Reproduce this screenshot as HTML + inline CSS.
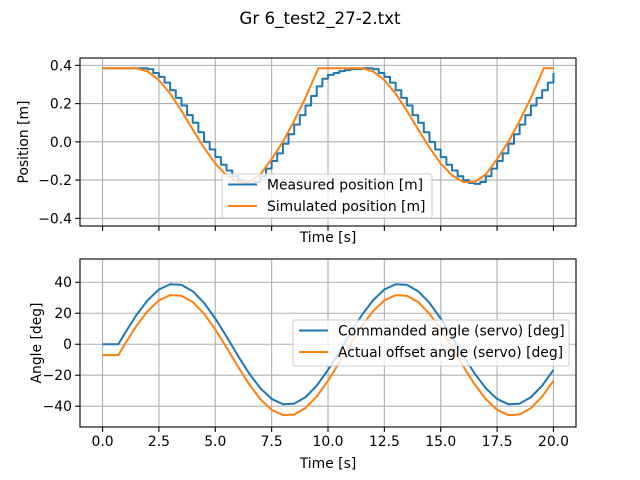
<!DOCTYPE html>
<html><head><meta charset="utf-8"><style>
body{margin:0;background:#fff}
svg{display:block;font-family:"DejaVu Sans","Liberation Sans",sans-serif}
</style></head><body>
<svg id="fig" width="640" height="480" viewBox="0 0 640 480" xmlns="http://www.w3.org/2000/svg">
<rect width="640" height="480" fill="#fff"/>
<text x="320" y="24" text-anchor="middle" font-size="16.7">Gr 6_test2_27-2.txt</text>
<g id="top"></g>
<g id="bot"></g>
</svg>
<script>
const simT = [0,1.5,2,2.5,3,3.5,4,4.5,5,5.5,6,6.5,7,7.5,8,8.5,9,9.57,10,11.5,12,12.5,13,13.5,14,14.5,15,15.5,16,16.5,17,17.5,18,18.5,19,19.57,20];
const simPos = [0.385,0.385,0.369,0.323,0.252,0.163,0.065,-0.03,-0.113,-0.175,-0.209,-0.21,-0.17,-0.09,0.0,0.11,0.23,0.385,0.385,0.385,0.369,0.323,0.252,0.163,0.065,-0.03,-0.113,-0.175,-0.209,-0.21,-0.17,-0.09,0.0,0.11,0.23,0.385,0.385];
const measPos = [0.385,0.385,0.385,0.385,0.385,0.385,0.385,0.385,
0.38,0.36,0.34,0.31,0.27,0.23,0.19,0.14,0.10,0.05,0.0,-0.04,-0.08,-0.12,-0.15,-0.18,-0.20,-0.215,-0.22,-0.21,-0.18,-0.14,-0.10,-0.06,-0.01,0.04,0.09,0.14,0.19,0.24,0.29,0.33,0.35,0.36,0.37,0.375,0.38,0.38,0.385,0.385,
0.38,0.36,0.34,0.31,0.27,0.23,0.19,0.14,0.10,0.05,0.0,-0.04,-0.08,-0.12,-0.15,-0.18,-0.20,-0.215,-0.22,-0.21,-0.18,-0.14,-0.10,-0.06,-0.01,0.04,0.09,0.14,0.19,0.23,0.27,0.31,0.36];
const angT = [0,0.5,0.7,1,1.5,2,2.5,3,3.5,4,4.5,5,5.5,6,6.5,7,7.5,8,8.5,9,9.5,10,10.5,11,11.5,12,12.5,13,13.5,14,14.5,15,15.5,16,16.5,17,17.5,18,18.5,19,19.5,20];
const cmdAng = [0,0,0,7.3,18.8,28.4,35.3,38.7,38.3,34.2,26.7,16.6,4.9,-7.3,-18.8,-28.4,-35.3,-38.7,-38.3,-34.2,-26.7,-16.6,-4.9,7.3,18.8,28.4,35.3,38.7,38.3,34.2,26.7,16.6,4.9,-7.3,-18.8,-28.4,-35.3,-38.7,-38.3,-34.2,-26.7,-16.6];
const actAng = [-7,-7,-7,0.3,11.8,21.4,28.3,31.7,31.3,27.2,19.7,9.6,-2.1,-14.3,-25.8,-35.4,-42.3,-45.7,-45.3,-41.2,-33.7,-23.6,-11.9,0.3,11.8,21.4,28.3,31.7,31.3,27.2,19.7,9.6,-2.1,-14.3,-25.8,-35.4,-42.3,-45.7,-45.3,-41.2,-33.7,-23.6];
const xTicks = [0,2.5,5,7.5,10,12.5,15,17.5,20];
const xTickLabels = ["0.0","2.5","5.0","7.5","10.0","12.5","15.0","17.5","20.0"];
const posTicks = [-0.4,-0.2,0,0.2,0.4];
const posTickLabels = ["−0.4","−0.2","0.0","0.2","0.4"];
const angTicks = [-40,-20,0,20,40];
const angTickLabels = ["−40","−20","0","20","40"];

const NS="http://www.w3.org/2000/svg";
function mk(p,tag,a){const e=document.createElementNS(NS,tag);for(const k in a)e.setAttribute(k,a[k]);p.appendChild(e);return e;}
const L=80,R=576;
const sx=t=>L+(t+1)/22*(R-L);
function axes(g,top,bot,y0,y1,yt,ytl,ylabel,showX){
  const sy=v=>bot-(v-y0)/(y1-y0)*(bot-top);
  xTicks.forEach((t,i)=>{const l=mk(g,'line',{x1:sx(t),x2:sx(t),y1:top,y2:bot,stroke:'#b0b0b0','stroke-width':1.1});
    
    mk(g,'line',{x1:sx(t),x2:sx(t),y1:bot,y2:bot+4.9,stroke:'#000','stroke-width':1.1});
    if(showX){const tx=mk(g,'text',{x:sx(t),y:bot+19,'text-anchor':'middle','font-size':13.9});tx.textContent=xTickLabels[i];
      }
  });
  yt.forEach((v,i)=>{const l=mk(g,'line',{x1:L,x2:R,y1:sy(v),y2:sy(v),stroke:'#b0b0b0','stroke-width':1.1});
    
    mk(g,'line',{x1:L-4.9,x2:L,y1:sy(v),y2:sy(v),stroke:'#000','stroke-width':1.1});
    const tx=mk(g,'text',{x:L-8,y:sy(v)+5,'text-anchor':'end','font-size':13.9});tx.textContent=ytl[i];
    
  });
  const yl=mk(g,'text',{x:0,y:0,'text-anchor':'middle','font-size':13.9,transform:`translate(${showX?41:28},${(top+bot)/2}) rotate(-90)`});
  yl.textContent=ylabel;
  const xl=mk(g,'text',{x:(L+R)/2,y:showX?468:242,'text-anchor':'middle','font-size':13.9});xl.textContent='Time [s]';
  
  return sy;
}
function line(g,xs,ys,sx_,sy,color,step,name){
  let d='';
  xs.forEach((x,i)=>{
    if(i===0){d+=`M${sx_(x)},${sy(ys[i])}`;return;}
    if(step){d+=`H${sx_(x)}V${sy(ys[i])}`;} else d+=`L${sx_(x)},${sy(ys[i])}`;
  });
  const p=mk(g,'path',{d,fill:'none',stroke:color,'stroke-width':2,'stroke-linejoin':'round'});
  
}
function frame(g,top,bot){const r=mk(g,'rect',{x:L,y:top,width:R-L,height:bot-top,fill:'none',stroke:'#000','stroke-width':1.1});
  }
function legend(g,x,y,w,h,items){
  const lg=mk(g,'g',{});
  mk(lg,'rect',{x,y,width:w,height:h,rx:2,fill:'#fff','fill-opacity':0.8,stroke:'#ccc','stroke-width':1});
  items.forEach((it,i)=>{const yy=y+10.5+i*21.5;
    const e=mk(lg,'g',{});
    mk(e,'line',{x1:x+6,x2:x+35,y1:yy,y2:yy,stroke:it[1],'stroke-width':2});
    const t=mk(e,'text',{x:x+45,y:yy+5,'font-size':13.9});t.textContent=it[0];});
}
const gt=document.getElementById('top');
const syT=axes(gt,58,226,-0.44,0.4385,posTicks,posTickLabels,'Position [m]',false);
const measT=measPos.map((v,i)=>i*0.25);
line(gt,measT,measPos,sx,syT,'#1f77b4',true,'measured-position-line');
line(gt,simT,simPos,sx,syT,'#ff7f0e',false,'simulated-position-line');
frame(gt,58,226);
legend(gt,222,174,210,44,[['Measured position [m]','#1f77b4'],['Simulated position [m]','#ff7f0e']]);

const gb=document.getElementById('bot');
const syB=axes(gb,259,427,-53.4,55,angTicks,angTickLabels,'Angle [deg]',true);
line(gb,angT,cmdAng,sx,syB,'#1f77b4',false,'commanded-angle-line');
line(gb,angT,actAng,sx,syB,'#ff7f0e',false,'actual-angle-line');
frame(gb,259,427);
legend(gb,293,320,276,46,[['Commanded angle (servo) [deg]','#1f77b4'],['Actual offset angle (servo) [deg]','#ff7f0e']]);
</script>
</body></html>
